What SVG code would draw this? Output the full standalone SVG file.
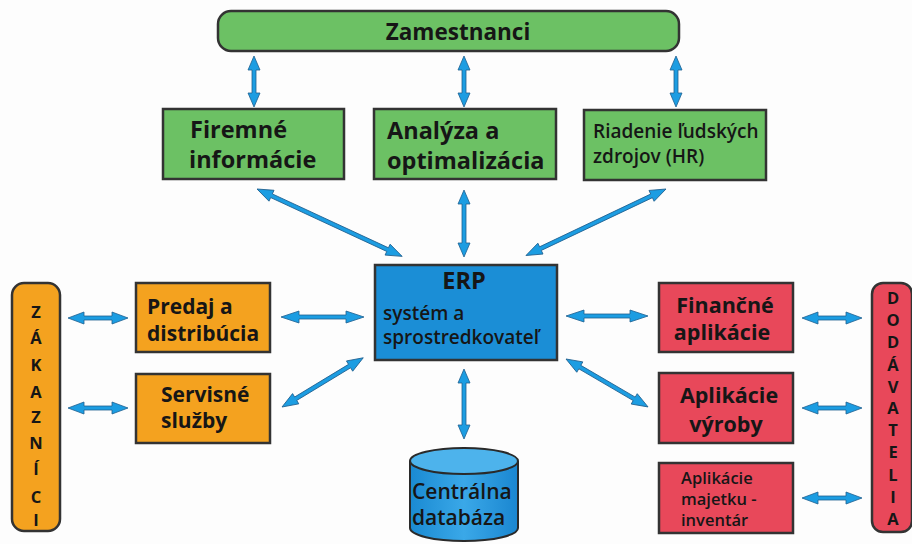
<svg xmlns="http://www.w3.org/2000/svg" width="912" height="544" viewBox="0 0 912 544">
<defs>
<style>
.bx{stroke:#333;stroke-width:2.5}
.g{fill:#6cc164}
.o{fill:#f4a21f}
.r{fill:#e8485a}
.b{fill:#1b8ed6}
.ar{fill:#1c9de2;stroke:#1f5f8f;stroke-width:0.8;stroke-linejoin:round}
text{font-family:"Open Sans","DejaVu Sans",sans-serif;fill:#161616}
.t24{font-size:23.5px;font-weight:700}
.t21{font-size:21px;font-weight:700}
.t19{font-size:19px;font-weight:600}
.t17{font-size:16.5px;font-weight:600}
.v{font-size:16.5px;font-weight:700;text-anchor:middle}
.c{text-anchor:middle}
</style>
<linearGradient id="dbg" x1="0" x2="1" y1="0" y2="0">
<stop offset="0" stop-color="#1a8ad2"/>
<stop offset="0.5" stop-color="#3aa8e8"/>
<stop offset="1" stop-color="#1a86d0"/>
</linearGradient>
</defs>
<rect width="912" height="544" fill="#fdfdfd"/>

<g id="connectors">
<polygon class="ar" transform="translate(254,56) rotate(90)" points="0,0 14,-6 14,-2 37,-2 37,-6 51,0 37,6 37,2 14,2 14,6"/>
<polygon class="ar" transform="translate(464,56) rotate(90)" points="0,0 14,-6 14,-2 37,-2 37,-6 51,0 37,6 37,2 14,2 14,6"/>
<polygon class="ar" transform="translate(676,56) rotate(90)" points="0,0 14,-6 14,-2 37,-2 37,-6 51,0 37,6 37,2 14,2 14,6"/>
<polygon class="ar" transform="translate(257,189) rotate(24.9)" points="0,0 16,-6 16,-2 144,-2 144,-6 160,0 144,6 144,2 16,2 16,6"/>
<polygon class="ar" transform="translate(464,190) rotate(90)" points="0,0 14,-6 14,-2 53,-2 53,-6 67,0 53,6 53,2 14,2 14,6"/>
<polygon class="ar" transform="translate(666,189) rotate(154.6)" points="0,0 16,-6 16,-2 139,-2 139,-6 155,0 139,6 139,2 16,2 16,6"/>
<polygon class="ar" transform="translate(281,317)" points="0,0 18,-6 18,-2 65,-2 65,-6 83,0 65,6 65,2 18,2 18,6"/>
<polygon class="ar" transform="translate(282,407) rotate(-31.2)" points="0,0 16,-6 16,-2 79,-2 79,-6 95,0 79,6 79,2 16,2 16,6"/>
<polygon class="ar" transform="translate(68,318)" points="0,0 16,-6 16,-2 44,-2 44,-6 60,0 44,6 44,2 16,2 16,6"/>
<polygon class="ar" transform="translate(68,408)" points="0,0 16,-6 16,-2 44,-2 44,-6 60,0 44,6 44,2 16,2 16,6"/>
<polygon class="ar" transform="translate(464,369) rotate(90)" points="0,0 14,-6 14,-2 56,-2 56,-6 70,0 56,6 56,2 14,2 14,6"/>
<polygon class="ar" transform="translate(566,316)" points="0,0 18,-6 18,-2 64,-2 64,-6 82,0 64,6 64,2 18,2 18,6"/>
<polygon class="ar" transform="translate(566,359) rotate(30.3)" points="0,0 16,-6 16,-2 79,-2 79,-6 95,0 79,6 79,2 16,2 16,6"/>
<polygon class="ar" transform="translate(802,318)" points="0,0 16,-6 16,-2 44,-2 44,-6 60,0 44,6 44,2 16,2 16,6"/>
<polygon class="ar" transform="translate(802,408)" points="0,0 16,-6 16,-2 44,-2 44,-6 60,0 44,6 44,2 16,2 16,6"/>
<polygon class="ar" transform="translate(802,498)" points="0,0 16,-6 16,-2 44,-2 44,-6 60,0 44,6 44,2 16,2 16,6"/>
</g>

<g id="zamestnanci">
<rect class="bx g" x="218" y="11" width="461" height="40" rx="13"/>
<text class="t24 c" x="458" y="40" style="font-size:22.5px">Zamestnanci</text>
</g>

<g id="firemne">
<rect class="bx g" x="163" y="109" width="181" height="70"/>
<text class="t24" x="190" y="138">Firemné</text>
<text class="t24" x="189" y="168">informácie</text>
</g>

<g id="analyza">
<rect class="bx g" x="374" y="109" width="182" height="70"/>
<text class="t24" x="387" y="139">Analýza a</text>
<text class="t24" x="387" y="169">optimalizácia</text>
</g>

<g id="riadenie">
<rect class="bx g" x="584" y="110" width="182" height="70"/>
<text class="t19" x="593" y="138">Riadenie ľudských</text>
<text class="t19" x="593" y="163">zdrojov (HR)</text>
</g>

<g id="erp">
<rect class="bx b" x="375" y="265" width="182" height="95"/>
<text class="t24 c" x="464" y="289">ERP</text>
<text class="t19" x="383" y="320" style="font-size:19px">systém a</text>
<text class="t19" x="383" y="344" style="font-size:19px">sprostredkovateľ</text>
</g>

<g id="zakaznici">
<rect class="bx o" x="12" y="283" width="48" height="248" rx="12"/>
<text class="v" x="36" y="318">Z</text>
<text class="v" x="36" y="344">Á</text>
<text class="v" x="36" y="371">K</text>
<text class="v" x="36" y="398">A</text>
<text class="v" x="36" y="423">Z</text>
<text class="v" x="36" y="449">N</text>
<text class="v" x="36" y="475">Í</text>
<text class="v" x="36" y="503">C</text>
<text class="v" x="36" y="526">I</text>
</g>

<g id="predaj">
<rect class="bx o" x="136" y="283" width="134" height="69"/>
<text class="t21" x="147" y="314">Predaj a</text>
<text class="t21" x="147" y="341">distribúcia</text>
</g>

<g id="servisne">
<rect class="bx o" x="136" y="374" width="134" height="69"/>
<text class="t21" x="161" y="402">Servisné</text>
<text class="t21" x="161" y="428">služby</text>
</g>

<g id="databaza">
<path d="M410,461 L410,528 A54,13 0 0 0 518,528 L518,461" fill="url(#dbg)" stroke="#2a2a2a" stroke-width="2"/>
<ellipse cx="464" cy="461" rx="54" ry="13" fill="#4db3ec" stroke="#2a2a2a" stroke-width="2"/>
<text class="t19" x="412" y="499" style="font-size:21px">Centrálna</text>
<text class="t19" x="412" y="525" style="font-size:21px">databáza</text>
</g>

<g id="financne">
<rect class="bx r" x="659" y="283" width="134" height="69"/>
<text class="t21 c" x="725" y="313" style="font-size:21.5px">Finančné</text>
<text class="t21 c" x="722" y="340" style="font-size:21.5px">aplikácie</text>
</g>

<g id="vyroby">
<rect class="bx r" x="659" y="373" width="134" height="70"/>
<text class="t21 c" x="729" y="403" style="font-size:21.5px">Aplikácie</text>
<text class="t21 c" x="726" y="432" style="font-size:21.5px">výroby</text>
</g>

<g id="majetku">
<rect class="bx r" x="659" y="463" width="134" height="70"/>
<text class="t17" x="681" y="484">Aplikácie</text>
<text class="t17" x="681" y="505">majetku -</text>
<text class="t17" x="681" y="526">inventár</text>
</g>

<g id="dodavatelia">
<rect class="bx r" x="872" y="283" width="40" height="249" rx="11"/>
<text class="v" x="893" y="304">D</text>
<text class="v" x="893" y="326">O</text>
<text class="v" x="893" y="348">D</text>
<text class="v" x="893" y="371">Á</text>
<text class="v" x="893" y="393">V</text>
<text class="v" x="893" y="414">A</text>
<text class="v" x="893" y="436">T</text>
<text class="v" x="893" y="458">E</text>
<text class="v" x="893" y="481">L</text>
<text class="v" x="893" y="503">I</text>
<text class="v" x="893" y="525">A</text>
</g>
</svg>
